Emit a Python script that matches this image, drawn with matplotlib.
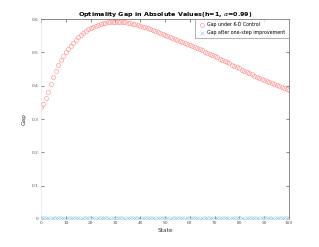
import matplotlib
matplotlib.use("Agg")
import matplotlib.pyplot as plt

# states 0..100
states = list(range(101))

# gap under K-D control
gap_kd = [
    0.335, 0.345, 0.362, 0.381, 0.404, 0.425, 0.445, 0.461, 0.476, 0.489,
    0.500, 0.510, 0.519, 0.528, 0.537, 0.545, 0.552, 0.558, 0.564, 0.569,
    0.573, 0.577, 0.580, 0.583, 0.585, 0.587, 0.588, 0.590, 0.591, 0.591,
    0.592, 0.592, 0.592, 0.591, 0.590, 0.589, 0.587, 0.586, 0.584, 0.582,
    0.579, 0.577, 0.575, 0.572, 0.570, 0.567, 0.564, 0.561, 0.558, 0.555,
    0.552, 0.549, 0.546, 0.543, 0.540, 0.537, 0.534, 0.531, 0.528, 0.525,
    0.522, 0.519, 0.516, 0.512, 0.509, 0.506, 0.502, 0.499, 0.495, 0.492,
    0.489, 0.485, 0.481, 0.478, 0.474, 0.470, 0.467, 0.463, 0.459, 0.456,
    0.452, 0.448, 0.445, 0.441, 0.438, 0.434, 0.430, 0.427, 0.423, 0.420,
    0.416, 0.413, 0.410, 0.407, 0.404, 0.401, 0.398, 0.395, 0.392, 0.389,
    0.387,
]

# gap after one-step improvement (essentially zero)
gap_improved = [
    0.002, 0.004, 0.002, 0.003, 0.001, 0.003, 0.002, 0.004, 0.002, 0.003,
    0.001, 0.003, 0.002, 0.004, 0.002, 0.003, 0.001, 0.003, 0.002, 0.004,
    0.002, 0.003, 0.001, 0.003, 0.002, 0.004, 0.002, 0.003, 0.001, 0.003,
    0.002, 0.004, 0.002, 0.003, 0.001, 0.003, 0.002, 0.004, 0.002, 0.003,
    0.001, 0.003, 0.002, 0.004, 0.002, 0.003, 0.001, 0.003, 0.002, 0.004,
    0.002, 0.003, 0.001, 0.003, 0.002, 0.004, 0.002, 0.003, 0.001, 0.003,
    0.002, 0.004, 0.002, 0.003, 0.001, 0.003, 0.002, 0.004, 0.002, 0.003,
    0.001, 0.003, 0.002, 0.004, 0.002, 0.003, 0.001, 0.003, 0.002, 0.004,
    0.002, 0.003, 0.001, 0.003, 0.002, 0.004, 0.002, 0.003, 0.001, 0.003,
    0.002, 0.004, 0.002, 0.003, 0.001, 0.003, 0.002, 0.004, 0.002, 0.003,
    0.002,
]

x_ticks = list(range(0, 101, 10))
y_ticks = [0, 0.1, 0.2, 0.3, 0.4, 0.5, 0.6]

fig = plt.figure(figsize=(3.19, 2.47), dpi=100)
ax = fig.add_axes([0.1285, 0.1134, 0.7775, 0.8096])

ax.plot(states, gap_kd, linestyle="none", marker="o", markersize=3.0,
        markerfacecolor="none", markeredgecolor="#ff8a8a", markeredgewidth=0.4,
        label="Gap under K-D Control")
ax.plot(states, gap_improved, linestyle="none", marker="x", markersize=2.2,
        color="#8ccbee", markeredgewidth=0.4,
        label="Gap after one-step improvement")

ax.set_xlim(0, 100)
ax.set_ylim(0, 0.6)
ax.set_xticks(x_ticks)
ax.set_yticks(y_ticks)
ax.set_xticklabels([str(t) for t in x_ticks])
ax.set_yticklabels(["0", "0.1", "0.2", "0.3", "0.4", "0.5", "0.6"])
ax.tick_params(direction="in", length=2, width=0.5, labelsize=3.2,
               colors="#555555", pad=1.5, top=True, right=True)

for side in ["top", "right"]:
    ax.spines[side].set_color("#777777")
    ax.spines[side].set_linewidth(0.6)
for side in ["left", "bottom"]:
    ax.spines[side].set_color("#dddddd")
    ax.spines[side].set_linewidth(0.4)

ax.set_title(r"Optimality Gap in Absolute Values(h=1, $\alpha$=0.99)",
             fontsize=4.6, fontweight="bold", pad=2)
ax.set_xlabel("State", fontsize=4.2, color="#333333", labelpad=2)
ax.set_ylabel("Gap", fontsize=4.2, color="#333333", labelpad=4)

leg = ax.legend(loc="upper right", fontsize=3.4, frameon=True, fancybox=False,
                borderpad=0.7, handletextpad=0.5, labelspacing=0.6,
                handlelength=1.4, borderaxespad=0.0)
leg.get_frame().set_edgecolor("#777777")
leg.get_frame().set_linewidth(0.5)

fig.savefig("out.png", dpi=100)
